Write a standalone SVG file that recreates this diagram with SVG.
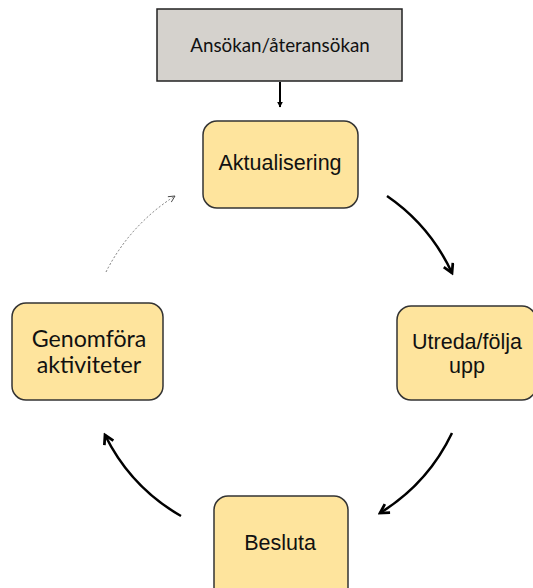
<svg xmlns="http://www.w3.org/2000/svg" width="533" height="588" viewBox="0 0 533 588">
  <style>
    .step rect { fill: #fee49d; stroke: #333333; stroke-width: 1.5; }
    .start rect { fill: #d5d2cd; stroke: #222222; stroke-width: 1.5; }
    .arial { font-family: "Liberation Sans", Arial, sans-serif; fill: #111111; text-anchor: middle; font-size: 21.5px; }
    .cal { font-family: Lato, "Open Sans", sans-serif; fill: #111111; text-anchor: middle; }
    .flow { fill: none; stroke: #000000; stroke-width: 2.5; marker-end: url(#chev); }
    .back { fill: none; stroke: #777777; stroke-width: 1; stroke-dasharray: 2 2; marker-end: url(#chevThin); }
  </style>
  <defs>
    <marker id="chev" viewBox="0 0 10 10" refX="8" refY="5" markerWidth="5" markerHeight="5" orient="auto" markerUnits="strokeWidth">
      <path d="M1,1 L8,5 L1,9" fill="none" stroke="#000" stroke-width="2.2"/>
    </marker>
    <marker id="chevThin" viewBox="0 0 10 10" refX="9" refY="5" markerWidth="8" markerHeight="8" orient="auto" markerUnits="strokeWidth">
      <path d="M1,1 L9,5 L1,9" fill="none" stroke="#333" stroke-width="1"/>
    </marker>
    <marker id="tri" viewBox="0 0 10 10" refX="9" refY="5" markerWidth="3" markerHeight="3" orient="auto" markerUnits="strokeWidth">
      <path d="M0,0 L10,5 L0,10 Z" fill="#000"/>
    </marker>
  </defs>

  <g id="node-ansokan" class="start">
    <rect x="157" y="9" width="245" height="72"/>
    <text class="cal" x="280" y="52" font-size="18.8">Ansökan/återansökan</text>
  </g>

  <g id="node-aktualisering" class="step">
    <rect x="203" y="121" width="155" height="87" rx="14"/>
    <text class="arial" x="280" y="170">Aktualisering</text>
  </g>

  <g id="node-utreda" class="step">
    <rect x="397" y="306" width="139" height="94" rx="14"/>
    <text class="arial" x="467" y="349">Utreda/följa</text>
    <text class="arial" x="467" y="373">upp</text>
  </g>

  <g id="node-besluta" class="step">
    <rect x="214" y="496" width="134" height="110" rx="14"/>
    <text class="arial" x="280" y="550">Besluta</text>
  </g>

  <g id="node-genomfora" class="step">
    <rect x="12" y="303" width="151" height="97" rx="14"/>
    <text class="cal" x="89" y="347" font-size="23.2">Genomföra</text>
    <text class="cal" x="89" y="373" font-size="23.2">aktiviteter</text>
  </g>

  <g id="connectors">
    <path d="M280,82 L280,107" fill="none" stroke="#000" stroke-width="2" marker-end="url(#tri)"/>
    <path class="flow" d="M387,196 A190,190 0 0 1 452,273"/>
    <path class="flow" d="M452,433 A190,190 0 0 1 380,513"/>
    <path class="flow" d="M181,516 A190,190 0 0 1 105,435"/>
    <path class="back" d="M106,272 A192,192 0 0 1 175,196"/>
  </g>
</svg>
